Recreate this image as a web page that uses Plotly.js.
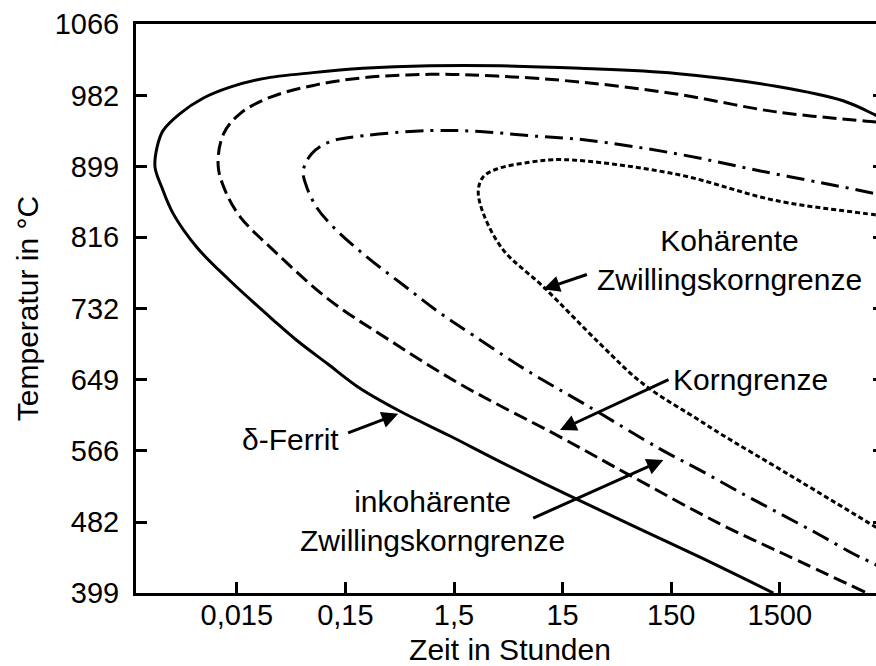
<!DOCTYPE html>
<html>
<head>
<meta charset="utf-8">
<script src="https://cdn.plot.ly/plotly-3.0.1.min.js"></script>
<style>
html,body{margin:0;padding:0;overflow:hidden;background:#ffffff;}
#chart{width:900px;height:666px;}
</style>
</head>
<body>
<div id="chart"></div>
<script>
// Time axis ticks (hours) and temperature ticks (°C)
const timeTicks = [0.015, 0.15, 1.5, 15, 150, 1500];
const timeTickText = ['0,015', '0,15', '1,5', '15', '150', '1500'];
const tempTicks = [399, 482, 566, 649, 732, 816, 899, 982, 1066];
const tempTickText = ['399', '482', '566', '649', '732', '816', '899', '982', '1066'];

// δ-Ferrit (solid)
const ferritTime = [1310, 276, 77.4, 18.7, 3.98, 1.38, 0.478, 0.204, 0.102, 0.0537, 0.0325, 0.0130, 0.00645, 0.00388, 0.00307, 0.00265, 0.00276, 0.00314, 0.00450, 0.00733, 0.0130, 0.0262, 0.0755, 0.218, 0.902, 3.98, 21.7, 166, 1384, 5728, 11534, 15500];
const ferritTemp = [399, 441, 474, 511, 553, 583, 612, 639, 668, 695, 719, 765, 804, 844, 874, 898, 921, 941, 961, 979, 992, 1002, 1009, 1014, 1017, 1017, 1014, 1008, 993, 976, 959, 951];

// inkohärente Zwillingskorngrenze (dashed)
const incoherentTime = [9130, 1616, 422, 58.4, 14.2, 1.70, 0.386, 0.108, 0.0325, 0.0161, 0.0117, 0.0101, 0.0113, 0.0161, 0.0303, 0.0760, 0.219, 0.902, 3.71, 21.7, 166, 1384, 11534, 15500];
const incoherentTemp = [400, 445, 480, 539, 582, 644, 695, 742, 801, 840, 871, 900, 937, 961, 980, 994, 1003, 1007, 1005, 998, 984, 963, 951, 949];

// Korngrenze (dash-dot)
const grainTime = [15500, 11534, 7127, 3280, 1405, 645, 276, 118, 25.0, 7.01, 2.26, 1.04, 0.512, 0.236, 0.116, 0.0816, 0.0660, 0.0614, 0.0734, 0.108, 0.219, 0.902, 2.60, 7.51, 24.6, 166, 971, 5691, 11534, 15500];
const grainTemp = [422, 432, 445, 469, 494, 517, 543, 568, 619, 660, 701, 730, 760, 793, 828, 851, 875, 894, 914, 928, 935, 941, 940, 935, 930, 914, 894, 875, 867, 864];

// Kohärente Zwillingskorngrenze (dotted)
const coherentTime = [15500, 11534, 1863, 422, 276, 83.0, 33.2, 9.96, 4.27, 2.79, 2.51, 2.79, 3.71, 7.51, 15.2, 166, 1384, 11534, 15500];
const coherentTemp = [466, 476, 537, 586, 601, 644, 691, 758, 801, 844, 871, 887, 896, 904, 907, 890, 859, 842, 839];

const FONT = 'Liberation Sans, Arial, Helvetica, sans-serif';

function curve(x, y, dash, width) {
  return {
    x: x, y: y, type: 'scatter', mode: 'lines',
    line: {color: '#000000', width: width, dash: dash, shape: 'spline', smoothing: 1},
    hoverinfo: 'skip', showlegend: false
  };
}

const traces = [
  curve(ferritTime, ferritTemp, 'solid', 3),
  curve(incoherentTime, incoherentTemp, '14px,6px', 3),
  curve(grainTime, grainTemp, '18px,7px,3px,7px', 3),
  curve(coherentTime, coherentTemp, '5px,3px', 3)
];

function label(t, temp, text) {
  return {x: Math.log10(t), y: temp, xref: 'x', yref: 'y', text: text, showarrow: false,
          font: {family: FONT, size: 30, color: '#000'}, align: 'center'};
}
function arrow(tailT, tailTemp, tipT, tipTemp) {
  return {x: Math.log10(tipT), y: tipTemp, ax: Math.log10(tailT), ay: tailTemp,
          xref: 'x', yref: 'y', axref: 'x', ayref: 'y', text: '', showarrow: true,
          arrowhead: 2, arrowsize: 1.1, arrowwidth: 3, arrowcolor: '#000'};
}

const layout = {
  width: 900, height: 666,
  margin: {l: 136, r: 16, t: 24, b: 73},
  paper_bgcolor: '#ffffff', plot_bgcolor: '#ffffff',
  font: {family: FONT, color: '#000000', size: 29},
  showlegend: false,
  xaxis: {
    type: 'log', range: [-2.7521, 4.1356],
    tickvals: timeTicks, ticktext: timeTickText,
    ticks: 'inside', ticklen: 11, tickwidth: 3, tickcolor: '#000',
    showline: true, linewidth: 3, linecolor: '#000', mirror: true,
    showgrid: false, zeroline: false,
    tickfont: {family: FONT, size: 29, color: '#000'},
    ticklabelstandoff: -6,
    title: {text: 'Zeit in Stunden', font: {family: FONT, size: 30, color: '#000'}, standoff: 16}
  },
  yaxis: {
    range: [399, 1066],
    tickvals: tempTicks, ticktext: tempTickText,
    ticks: 'inside', ticklen: 11, tickwidth: 3, tickcolor: '#000',
    showline: true, linewidth: 3, linecolor: '#000', mirror: 'ticks',
    showgrid: false, zeroline: false,
    tickfont: {family: FONT, size: 29, color: '#000'},
    ticklabelstandoff: 8,
    title: {text: 'Temperatur in °C', font: {family: FONT, size: 30, color: '#000'}, standoff: 8}
  },
  annotations: [
    label(0.0471, 579, 'δ-Ferrit'),
    label(0.951, 483, 'inkohärente<br>Zwillingskorngrenze'),
    label(811, 649, 'Korngrenze'),
    label(511, 789, 'Kohärente<br>Zwillingskorngrenze'),
    arrow(0.154, 586, 0.460, 609),
    arrow(7.79, 486, 126.9, 555),
    arrow(146.2, 650, 14.2, 590),
    arrow(25.9, 773, 9.96, 755)
  ]
};

Plotly.newPlot('chart', traces, layout, {staticPlot: true, displayModeBar: false});
</script>
</body>
</html>
